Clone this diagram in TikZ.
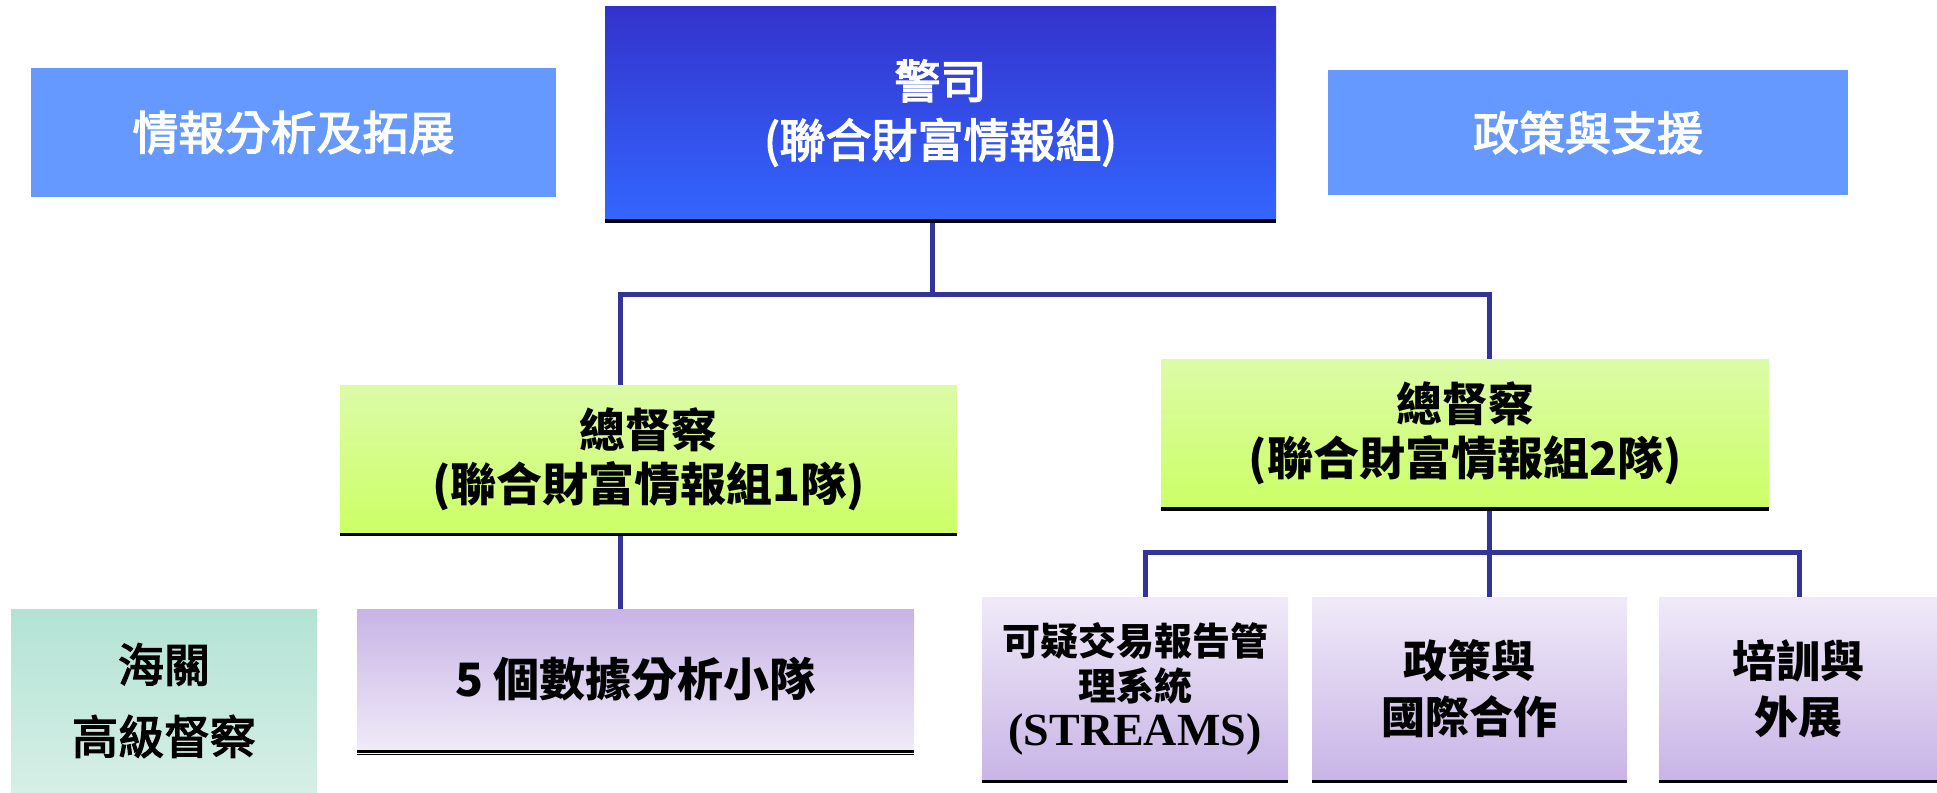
\documentclass[tikz,border=0pt]{standalone}
\usepackage{fontspec}
\setmainfont{Noto Sans CJK TC}
\newfontfamily\cjkmedium[FakeBold=3]{Noto Sans CJK TC}
\newfontfamily\latinserif{Liberation Serif}
\usepackage{xcolor}
\usetikzlibrary{positioning}
\definecolor{headblue}{HTML}{6699FF}
\definecolor{bosstop}{HTML}{3333CC}
\definecolor{bossbottom}{HTML}{3366FF}
\definecolor{limetop}{HTML}{DCFBA8}
\definecolor{limebottom}{HTML}{CCFF66}
\definecolor{tealtop}{HTML}{B3E3D4}
\definecolor{tealbottom}{HTML}{D6EFE7}
\definecolor{lilacdark}{HTML}{C8B4E6}
\definecolor{lilaclight}{HTML}{F0EAF8}
\definecolor{linkblue}{HTML}{333399}
\tikzset{
box/.style={rectangle, inner sep=0pt, align=center, text=black},
headbox/.style={box, fill=headblue, text=white, font=\cjkmedium\fontsize{46}{56}\selectfont},
bossbox/.style={box, top color=bosstop, bottom color=bossbottom, text=white, font=\cjkmedium\fontsize{46}{59}\selectfont},
teambox/.style={box, top color=limetop, bottom color=limebottom, font=\bfseries\fontsize{46}{54}\selectfont},
customsbox/.style={box, top color=tealtop, bottom color=tealbottom, font=\cjkmedium\fontsize{46}{72}\selectfont},
squadbox/.style={box, top color=lilacdark, bottom color=lilaclight, font=\bfseries\fontsize{46}{56}\selectfont},
unitbox/.style={box, top color=lilaclight, bottom color=lilacdark, font=\bfseries\fontsize{44}{56}\selectfont},
link/.style={draw=linkblue, line width=5pt},
ruleline/.style={black, line width=2.5pt},
rulethin/.style={black, line width=1.2pt}
}
\begin{document}
\begin{tikzpicture}[x=1pt, y=-1pt]
\useasboundingbox (0,0) rectangle (1937,792);

% Coordinates
\coordinate (bus_top) at (932,294);
\coordinate (bus_left) at (620,294);
\coordinate (bus_right) at (1489,294);
\coordinate (bus_low) at (1489,552);
\coordinate (bus_low_left) at (1145,552);
\coordinate (bus_low_right) at (1799,552);

% Boxes
\node[headbox, minimum width=525pt, minimum height=129pt] (intel) at (293.5,132.5) {情報分析及拓展};
\node[bossbox, minimum width=671pt, minimum height=212pt] (boss) at (940.5,113) {警司\\(聯合財富情報組)};
\node[headbox, minimum width=520pt, minimum height=125pt] (policy) at (1588,132.5) {政策與支援};

\node[teambox, minimum width=617pt, minimum height=148pt] (team_one) at (648.5,459) {總督察\\(聯合財富情報組1隊)};
\node[teambox, minimum width=608pt, minimum height=148pt] (team_two) at (1465,433) {總督察\\(聯合財富情報組2隊)};

\node[customsbox, minimum width=306pt, minimum height=183pt] (customs) at (164,700.5) {海關\\高級督察};
\node[squadbox, minimum width=557pt, minimum height=141pt] (squads) at (635.5,679.5) {5 個數據分析小隊};
\node[unitbox, minimum width=306pt, minimum height=183pt, font=\bfseries\fontsize{38}{45}\selectfont] (streams) at (1135,688.5) {可疑交易報告管\\理系統\\{\latinserif\bfseries\fontsize{46}{45}\selectfont (STREAMS)}};
\node[unitbox, minimum width=315pt, minimum height=183pt] (intl) at (1469.5,688.5) {政策與\\國際合作};
\node[unitbox, minimum width=278pt, minimum height=183pt] (training) at (1798,688.5) {培訓與\\外展};

% Links
\draw[link] (boss.south -| bus_top) -- (bus_top);
\draw[link] (team_one.north -| bus_left) -- (bus_left) -- (bus_right) -- (team_two.north -| bus_right);
\draw[link] (team_one.south -| bus_left) -- (squads.north -| bus_left);
\draw[link] (team_two.south -| bus_low) -- (bus_low);
\draw[link] (streams.north -| bus_low_left) -- (bus_low_left) -- (bus_low_right) -- (training.north -| bus_low_right);
\draw[link] (bus_low) -- (intl.north -| bus_low);

% Rules under the boxes
\draw[ruleline] ([yshift=-1.25pt]boss.south west) -- ([yshift=-1.25pt]boss.south east);
\draw[rulethin] ([yshift=-3.6pt]boss.south west) -- ([yshift=-3.6pt]boss.south east);
\draw[ruleline] ([yshift=-1.5pt]team_one.south west) -- ([yshift=-1.5pt]team_one.south east);
\draw[ruleline] ([yshift=-1.25pt]team_two.south west) -- ([yshift=-1.25pt]team_two.south east);
\draw[rulethin] ([yshift=-3.6pt]team_two.south west) -- ([yshift=-3.6pt]team_two.south east);
\draw[ruleline] ([yshift=-1.25pt]squads.south west) -- ([yshift=-1.25pt]squads.south east);
\draw[rulethin] ([yshift=-4pt]squads.south west) -- ([yshift=-4pt]squads.south east);
\draw[ruleline] ([yshift=-1.5pt]streams.south west) -- ([yshift=-1.5pt]streams.south east);
\draw[ruleline] ([yshift=-1.5pt]intl.south west) -- ([yshift=-1.5pt]intl.south east);
\draw[ruleline] ([yshift=-1.5pt]training.south west) -- ([yshift=-1.5pt]training.south east);

\end{tikzpicture}
\end{document}
